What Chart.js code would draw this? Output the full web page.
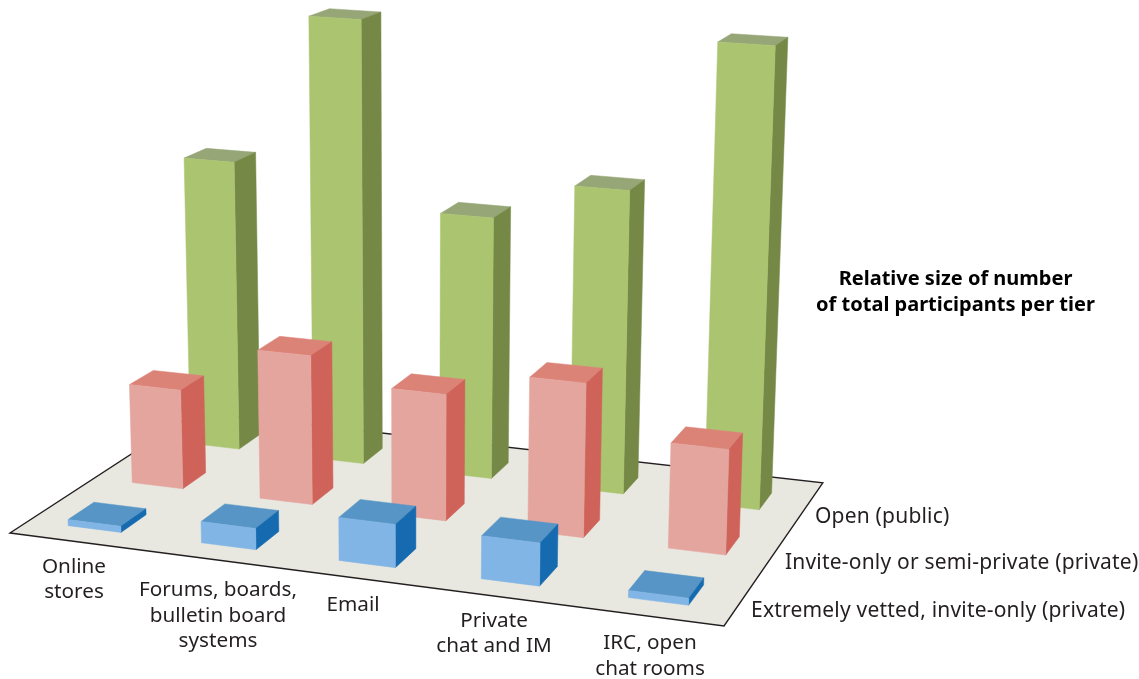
<!DOCTYPE html>
<html>
<head>
<meta charset="utf-8">
<style>
  html, body { margin: 0; padding: 0; background: #fff; }
  canvas { display: block; }
</style>
<script src="https://cdn.jsdelivr.net/npm/chart.js@4"></script>
</head>
<body>
<canvas id="tiers" width="1139" height="679"></canvas>
<script>
const categories = [['Online', 'stores'], ['Forums, boards,', 'bulletin board', 'systems'], ['Email'], ['Private', 'chat and IM'], ['IRC, open', 'chat rooms']];
const tierLabels = ['Extremely vetted, invite-only (private)', 'Invite-only or semi-private (private)', 'Open (public)'];
const titleLines = ['Relative size of number', 'of total participants per tier'];

// relative height of each bar
const extremelyVetted = [0.9, 3.1, 6.2, 6.1, 1];
const inviteOnly = [15.1, 22.4, 18.8, 22.6, 15.3];
const openPublic = [45.05, 67.8, 39.95, 45.7, 67.9];

const tierColors = [
  { front: '#80B5E5', side: '#166BB0', top: '#5695C5' },
  { front: '#E4A59F', side: '#CF635A', top: '#DC8378' },
  { front: '#ABC46F', side: '#758846', top: '#96A677' }
];

// floor homography, unit square -> page pixels, and the vertical vanishing point
const floor = { a: 656.1, b: 215.7, c: 10, d: 42.9, e: -58.5, f: 533, g: -0.08, h: 0.1517 };
const vanish = { x: 414, y: 10500, k: 0.0001 };
const boxU = 0.08, boxV = 0.13;

function project(u, v, height) {
  const k = vanish.k * height;
  const w = floor.g * u + floor.h * v + 1 - k;
  return {
    x: (floor.a * u + floor.b * v + floor.c - k * vanish.x) / w,
    y: (floor.d * u + floor.e * v + floor.f - k * vanish.y) / w
  };
}

function face(ctx, pts, color) {
  ctx.beginPath();
  pts.forEach((p, i) => i ? ctx.lineTo(p.x, p.y) : ctx.moveTo(p.x, p.y));
  ctx.closePath();
  ctx.fillStyle = color;
  ctx.strokeStyle = color;
  ctx.lineWidth = 0.5;
  ctx.fill();
  ctx.stroke();
}

class Box3DController extends Chart.BarController {
  draw() {
    const { ctx, scales, chartArea } = this.chart;
    const colors = this.getDataset().colors;
    const tier = (scales.tier.getPixelForValue(this.index) - chartArea.left) / chartArea.width;
    const zero = scales.y.getPixelForValue(0);
    this.getDataset().data.forEach((value, i) => {
      const mid = (scales.x.getPixelForValue(i) - chartArea.left) / chartArea.width;
      const h = zero - scales.y.getPixelForValue(value);
      const u0 = mid - boxU / 2, u1 = mid + boxU / 2;
      const v0 = tier - boxV / 2, v1 = tier + boxV / 2;
      face(ctx, [project(u0, v0, h), project(u1, v0, h), project(u1, v1, h), project(u0, v1, h)], colors.top);
      face(ctx, [project(u1, v0, 0), project(u1, v1, 0), project(u1, v1, h), project(u1, v0, h)], colors.side);
      face(ctx, [project(u0, v0, 0), project(u1, v0, 0), project(u1, v0, h), project(u0, v0, h)], colors.front);
    });
  }
}
Box3DController.id = 'box3d';
Box3DController.defaults = Chart.BarController.defaults;
Box3DController.overrides = Chart.BarController.overrides;
Chart.register(Box3DController);

const floorPlugin = {
  id: 'floorPlane',
  beforeDatasetsDraw(chart) {
    const ctx = chart.ctx;
    const corners = [project(0, 0, 0), project(1, 0, 0), project(1, 1, 0), project(0, 1, 0)];
    ctx.save();
    ctx.beginPath();
    corners.forEach((p, i) => i ? ctx.lineTo(p.x, p.y) : ctx.moveTo(p.x, p.y));
    ctx.closePath();
    ctx.fillStyle = '#E8E8E0';
    ctx.strokeStyle = '#231F20';
    ctx.lineWidth = 1.4;
    ctx.fill();
    ctx.stroke();
    ctx.restore();
  }
};

// hand placed labels, as in the original artwork
const categoryAnchors = [[74, 567], [218, 590.5], [353, 605], [494, 621], [650, 643.5]];
const tierAnchors = [[751, 611], [785, 563], [815, 517]];

const labelPlugin = {
  id: 'artLabels',
  afterDatasetsDraw(chart) {
    const ctx = chart.ctx;
    ctx.save();
    ctx.fillStyle = '#231F20';
    ctx.textBaseline = 'middle';
    ctx.font = '20.7px "Noto Sans"';
    ctx.textAlign = 'center';
    categories.forEach((lines, i) => {
      lines.forEach((line, j) => ctx.fillText(line, categoryAnchors[i][0], categoryAnchors[i][1] + j * 25.5));
    });
    ctx.textAlign = 'left';
    ctx.font = '21px "Noto Sans"';
    ctx.letterSpacing = '0.2px';
    tierLabels.forEach((label, i) => ctx.fillText(label, tierAnchors[i][0], tierAnchors[i][1]));
    ctx.letterSpacing = '0px';
    ctx.fillStyle = '#000';
    ctx.font = 'bold 20px "Noto Sans"';
    ctx.textAlign = 'center';
    titleLines.forEach((line, i) => ctx.fillText(line, 955.5, 279 + i * 26));
    ctx.restore();
  }
};

new Chart(document.getElementById('tiers'), {
  type: 'box3d',
  data: {
    labels: categories,
    datasets: [
      { label: tierLabels[0], data: extremelyVetted, colors: tierColors[0] },
      { label: tierLabels[1], data: inviteOnly, colors: tierColors[1] },
      { label: tierLabels[2], data: openPublic, colors: tierColors[2] }
    ]
  },
  options: {
    responsive: false,
    animation: false,
    plugins: { legend: { display: false }, tooltip: { enabled: false } },
    scales: {
      x: { type: 'category', offset: true, display: false },
      y: { type: 'linear', min: 0, max: 100, display: false },
      tier: { type: 'linear', axis: 'x', offset: false, min: -0.47, max: 2.56, display: false }
    }
  },
  plugins: [floorPlugin, labelPlugin]
});
</script>
</body>
</html>
